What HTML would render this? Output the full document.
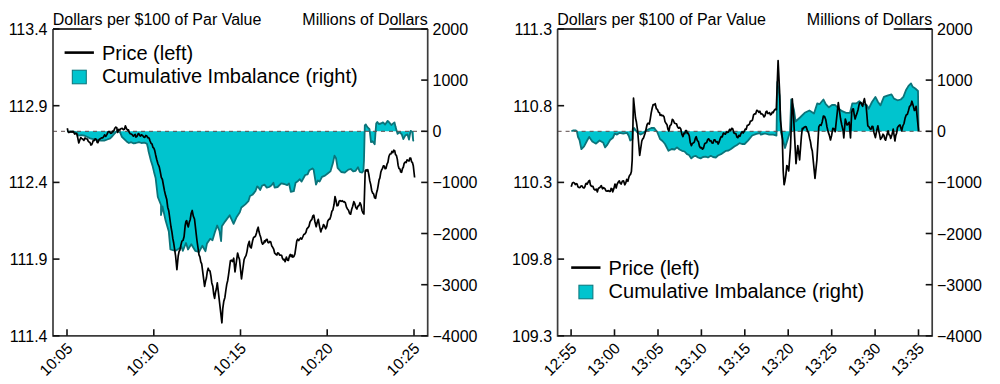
<!DOCTYPE html>
<html><head><meta charset="utf-8"><style>
html,body{margin:0;padding:0;background:#fff;width:1000px;height:384px;overflow:hidden}
svg{display:block}
.tk{font-family:"Liberation Sans",sans-serif;font-size:16px;fill:#000}
.tkr{font-family:"Liberation Sans",sans-serif;font-size:15.5px;fill:#000}
.lg{font-family:"Liberation Sans",sans-serif;font-size:20px;fill:#000}
</style></head><body>
<svg width="1000" height="384" viewBox="0 0 1000 384">
<polygon points="67.0,131.3 67.0,131.3 73.7,131.7 76.8,132.9 78.4,135.6 81.5,135.2 84.3,135.6 87.0,136.8 90.1,138.4 93.2,139.1 97.0,140.0 101.0,140.7 104.2,140.7 107.3,139.5 110.2,138.3 112.5,136.0 114.5,133.6 115.6,132.5 116.8,131.0 118.8,131.7 120.3,132.8 121.9,136.8 124.2,139.1 126.6,141.4 128.9,143.0 131.2,142.2 133.6,143.4 135.9,143.0 139.0,142.2 141.4,143.0 144.5,142.6 146.9,143.8 148.0,148.0 148.6,151.6 151.0,161.0 152.5,165.6 154.0,171.9 155.6,178.0 157.8,197.0 161.0,205.0 161.0,215.0 162.5,206.5 165.6,220.6 168.8,231.6 170.4,249.5 175.6,250.8 181.5,247.0 182.8,250.8 186.0,243.0 188.0,249.5 191.3,244.3 195.2,250.8 199.0,252.0 202.3,245.8 205.5,251.2 207.0,243.4 210.2,238.8 212.5,240.3 214.8,232.5 217.2,225.5 219.5,231.0 221.1,241.1 221.9,226.2 225.0,221.6 229.7,215.3 233.6,223.9 236.7,216.9 239.8,212.2 241.4,207.5 245.3,204.4 248.4,201.2 250.0,196.0 252.4,194.8 255.4,191.2 257.2,186.4 258.5,187.5 260.2,190.0 262.0,185.8 264.4,184.6 266.8,187.6 269.2,187.0 271.6,185.2 273.4,182.8 274.6,187.6 277.6,187.0 281.2,183.4 284.2,184.0 287.2,185.2 289.0,183.4 290.8,191.8 293.8,191.2 295.6,182.8 297.4,181.6 299.8,179.2 301.6,181.6 305.2,175.0 307.6,174.4 309.4,170.2 312.4,168.4 313.6,169.6 316.0,184.6 317.8,180.4 319.6,181.6 322.0,176.8 325.0,175.6 328.0,173.2 330.4,171.4 332.8,163.6 334.5,155.6 336.0,158.2 337.6,167.8 341.2,172.0 344.8,172.6 348.4,169.6 350.8,169.0 353.2,171.4 355.6,170.8 358.0,167.2 359.8,172.0 362.2,172.6 363.4,170.8 364.0,160.0 364.8,125.5 365.8,124.5 367.4,127.1 369.5,129.2 371.0,142.2 372.6,141.2 374.7,144.3 375.7,129.7 376.2,123.5 377.3,121.9 378.8,124.0 380.9,123.5 383.0,122.4 385.1,124.5 387.7,120.9 389.2,122.4 391.3,125.0 394.5,122.4 395.5,126.6 396.5,130.2 397.6,133.9 399.7,132.3 401.8,134.4 403.3,139.1 405.4,135.4 407.5,134.4 409.0,139.6 410.6,130.8 412.2,131.8 413.2,140.6 413.7,140.0 413.7,131.3" fill="#00c4ce" stroke="none"/>
<polyline points="67.0,131.3 73.7,131.7 76.8,132.9 78.4,135.6 81.5,135.2 84.3,135.6 87.0,136.8 90.1,138.4 93.2,139.1 97.0,140.0 101.0,140.7 104.2,140.7 107.3,139.5 110.2,138.3 112.5,136.0 114.5,133.6 115.6,132.5 116.8,131.0 118.8,131.7 120.3,132.8 121.9,136.8 124.2,139.1 126.6,141.4 128.9,143.0 131.2,142.2 133.6,143.4 135.9,143.0 139.0,142.2 141.4,143.0 144.5,142.6 146.9,143.8 148.0,148.0 148.6,151.6 151.0,161.0 152.5,165.6 154.0,171.9 155.6,178.0 157.8,197.0 161.0,205.0 161.0,215.0 162.5,206.5 165.6,220.6 168.8,231.6 170.4,249.5 175.6,250.8 181.5,247.0 182.8,250.8 186.0,243.0 188.0,249.5 191.3,244.3 195.2,250.8 199.0,252.0 202.3,245.8 205.5,251.2 207.0,243.4 210.2,238.8 212.5,240.3 214.8,232.5 217.2,225.5 219.5,231.0 221.1,241.1 221.9,226.2 225.0,221.6 229.7,215.3 233.6,223.9 236.7,216.9 239.8,212.2 241.4,207.5 245.3,204.4 248.4,201.2 250.0,196.0 252.4,194.8 255.4,191.2 257.2,186.4 258.5,187.5 260.2,190.0 262.0,185.8 264.4,184.6 266.8,187.6 269.2,187.0 271.6,185.2 273.4,182.8 274.6,187.6 277.6,187.0 281.2,183.4 284.2,184.0 287.2,185.2 289.0,183.4 290.8,191.8 293.8,191.2 295.6,182.8 297.4,181.6 299.8,179.2 301.6,181.6 305.2,175.0 307.6,174.4 309.4,170.2 312.4,168.4 313.6,169.6 316.0,184.6 317.8,180.4 319.6,181.6 322.0,176.8 325.0,175.6 328.0,173.2 330.4,171.4 332.8,163.6 334.5,155.6 336.0,158.2 337.6,167.8 341.2,172.0 344.8,172.6 348.4,169.6 350.8,169.0 353.2,171.4 355.6,170.8 358.0,167.2 359.8,172.0 362.2,172.6 363.4,170.8 364.0,160.0 364.8,125.5 365.8,124.5 367.4,127.1 369.5,129.2 371.0,142.2 372.6,141.2 374.7,144.3 375.7,129.7 376.2,123.5 377.3,121.9 378.8,124.0 380.9,123.5 383.0,122.4 385.1,124.5 387.7,120.9 389.2,122.4 391.3,125.0 394.5,122.4 395.5,126.6 396.5,130.2 397.6,133.9 399.7,132.3 401.8,134.4 403.3,139.1 405.4,135.4 407.5,134.4 409.0,139.6 410.6,130.8 412.2,131.8 413.2,140.6 413.7,140.0" fill="none" stroke="#0b747a" stroke-width="1.8" stroke-linejoin="round"/>
<line x1="53.0" y1="131.3" x2="427.7" y2="131.3" stroke="#5a4a4a" stroke-width="1" stroke-dasharray="4,4"/>
<polyline points="67.3,128.2 67.9,131.0 68.6,132.5 69.8,132.1 71.0,131.6 72.2,132.1 73.0,131.3 73.7,132.3 74.7,134.1 75.7,133.3 76.8,134.0 77.6,137.2 78.8,143.0 80.0,139.5 80.8,137.7 81.5,138.4 82.7,139.1 83.9,140.3 85.0,138.0 86.2,138.8 87.4,139.1 88.2,141.2 89.0,141.9 90.0,142.5 90.9,145.0 91.7,144.7 92.5,142.7 93.2,140.6 94.0,140.7 95.2,138.8 96.4,139.5 97.2,142.4 97.9,142.7 99.1,139.5 100.3,138.8 101.4,137.9 102.6,138.0 103.6,136.8 104.6,134.8 105.8,136.4 107.0,134.4 108.2,131.7 109.4,131.7 110.6,133.3 111.7,133.2 112.5,131.2 113.3,131.7 114.0,130.4 114.8,128.2 115.8,127.1 116.8,127.8 117.6,132.5 118.8,129.3 119.9,130.1 121.1,128.5 122.2,128.4 123.4,129.7 124.4,129.2 125.4,125.8 126.6,128.9 127.7,130.1 128.5,129.9 129.3,132.5 130.3,133.7 131.2,134.0 132.0,134.4 132.8,135.6 133.6,136.2 134.4,134.8 135.2,134.5 135.9,137.1 137.1,136.2 138.3,133.6 139.1,134.0 139.8,135.6 140.6,136.1 141.4,134.8 142.6,135.5 143.8,137.1 144.8,137.4 145.8,135.5 146.9,136.0 147.7,137.7 148.4,137.5 149.2,138.4 150.0,140.7 151.0,143.3 152.0,143.9 153.0,147.4 154.0,148.4 154.8,150.8 155.6,154.7 156.8,159.8 158.0,164.0 159.2,166.6 160.3,171.9 161.3,177.3 162.4,179.5 163.4,185.0 164.5,190.9 165.6,195.6 166.7,199.2 167.7,207.2 168.8,211.0 171.0,227.0 171.9,231.8 172.8,238.4 173.7,243.0 175.6,256.0 176.9,269.7 178.2,256.0 179.1,251.3 179.9,250.2 180.8,245.6 181.9,241.1 183.0,240.4 184.1,236.5 185.2,225.3 185.9,221.6 186.7,220.6 187.5,224.9 188.3,226.9 189.3,222.1 190.2,219.7 191.2,213.2 192.2,210.5 193.3,216.1 194.5,219.0 196.9,240.0 199.0,254.8 199.9,256.9 200.8,261.9 201.7,263.9 204.6,286.4 205.5,281.4 206.4,278.0 207.3,271.5 208.2,268.2 209.1,270.5 210.0,271.0 210.9,275.9 211.8,282.9 212.8,286.2 213.7,294.0 214.6,298.3 215.5,292.3 216.4,288.8 217.3,282.8 221.9,322.8 222.8,308.3 223.8,301.2 224.9,297.4 225.9,290.0 226.8,284.1 227.6,281.0 228.5,275.2 230.4,260.8 231.4,260.2 232.4,261.5 233.7,258.2 235.0,271.9 237.6,253.0 238.6,256.7 239.5,259.5 241.5,279.0 244.1,259.5 245.1,257.1 246.0,255.6 247.0,251.6 248.0,245.2 249.3,241.3 250.0,246.7 251.2,248.0 252.6,240.8 253.6,237.4 254.5,237.0 255.5,236.1 256.5,233.0 257.4,229.3 258.2,227.2 258.9,231.3 259.7,234.3 260.7,237.2 261.7,242.1 262.6,244.2 263.6,243.4 264.5,240.9 265.3,241.8 266.2,239.5 267.1,239.3 267.9,242.4 268.8,242.8 269.8,241.5 270.8,242.1 271.8,246.1 272.7,247.3 273.7,249.2 274.7,253.2 276.0,254.5 276.9,255.0 277.7,252.9 278.6,253.2 279.6,255.2 280.6,255.2 281.6,255.3 282.5,258.4 283.4,259.9 284.2,259.3 285.1,261.7 286.4,257.1 287.4,260.1 288.4,260.4 289.4,256.1 290.3,254.5 291.2,256.6 292.0,254.9 292.9,257.1 293.9,256.5 294.9,253.9 296.8,240.8 297.7,239.2 298.7,240.6 299.6,239.2 300.6,238.0 301.7,239.1 302.7,237.0 303.8,234.5 304.8,234.0 305.9,232.5 306.9,228.8 308.0,227.7 309.0,226.2 310.0,222.0 311.0,220.4 311.9,219.4 312.8,215.9 313.8,215.2 315.0,222.0 316.2,226.7 317.3,222.0 318.3,219.4 319.6,226.6 320.8,231.9 321.7,229.0 322.6,227.7 323.5,224.6 324.6,226.1 325.6,228.8 326.7,226.7 327.7,221.2 328.8,219.4 329.8,219.1 330.8,216.2 331.9,211.2 332.9,209.9 334.0,204.8 335.0,196.5 336.0,200.5 337.0,205.8 338.1,205.4 339.1,201.2 340.2,200.6 341.2,201.4 342.3,200.7 343.3,201.8 344.4,201.7 345.4,202.9 346.5,207.2 347.5,209.0 348.5,210.2 349.6,213.6 350.6,214.2 351.7,209.3 352.7,206.3 353.8,201.7 354.8,203.6 355.8,207.5 356.9,209.0 357.9,206.3 359.0,205.5 360.0,202.7 361.0,205.0 362.0,210.5 363.0,213.0 363.9,214.0 365.2,171.0 366.1,169.8 366.9,171.1 367.8,169.7 368.8,174.5 369.8,180.9 370.7,184.4 371.7,190.5 372.7,193.1 373.6,193.9 374.6,197.7 375.6,198.3 376.5,193.0 377.3,190.3 378.2,185.3 379.1,179.9 379.9,177.9 380.8,172.3 381.7,169.7 382.5,168.4 383.4,165.8 384.3,166.1 385.1,168.7 386.0,168.4 387.0,164.2 387.9,162.4 388.9,156.5 389.9,154.0 390.9,154.0 391.9,151.5 392.8,152.6 393.8,150.2 394.7,150.7 395.5,154.6 396.4,155.4 397.3,159.1 398.1,165.2 399.0,168.4 399.9,168.9 400.7,172.0 401.6,172.3 402.5,168.5 403.3,167.3 404.2,163.2 405.2,162.1 406.1,162.6 407.1,159.8 408.1,160.6 409.0,161.1 409.8,158.1 410.7,158.0 411.6,161.9 412.4,162.5 413.3,165.8 414.6,177.5" fill="none" stroke="#000" stroke-width="1.7" stroke-linejoin="round"/>
<path d="M53.0,29.0 V335.8 H427.7 V29.0" fill="none" stroke="#3c3c3c" stroke-width="1.7"/>
<path d="M53.0,29.0 H91.5 M389.2,29.0 H427.7" fill="none" stroke="#3a3a3a" stroke-width="1.8"/>
<line x1="53.0" y1="29.0" x2="59.5" y2="29.0" stroke="#111" stroke-width="1.6"/>
<text x="47.5" y="35.0" text-anchor="end" class="tk">113.4</text>
<line x1="53.0" y1="105.7" x2="59.5" y2="105.7" stroke="#111" stroke-width="1.6"/>
<text x="47.5" y="111.7" text-anchor="end" class="tk">112.9</text>
<line x1="53.0" y1="182.4" x2="59.5" y2="182.4" stroke="#111" stroke-width="1.6"/>
<text x="47.5" y="188.4" text-anchor="end" class="tk">112.4</text>
<line x1="53.0" y1="259.1" x2="59.5" y2="259.1" stroke="#111" stroke-width="1.6"/>
<text x="47.5" y="265.1" text-anchor="end" class="tk">111.9</text>
<line x1="53.0" y1="335.8" x2="59.5" y2="335.8" stroke="#111" stroke-width="1.6"/>
<text x="47.5" y="341.8" text-anchor="end" class="tk">111.4</text>
<line x1="421.2" y1="29.0" x2="427.7" y2="29.0" stroke="#111" stroke-width="1.6"/>
<text x="432.5" y="35.0" class="tk">2000</text>
<line x1="421.2" y1="80.1" x2="427.7" y2="80.1" stroke="#111" stroke-width="1.6"/>
<text x="432.5" y="86.1" class="tk">1000</text>
<line x1="421.2" y1="131.3" x2="427.7" y2="131.3" stroke="#111" stroke-width="1.6"/>
<text x="432.5" y="137.3" class="tk">0</text>
<line x1="421.2" y1="182.4" x2="427.7" y2="182.4" stroke="#111" stroke-width="1.6"/>
<text x="432.5" y="188.4" class="tk">−1000</text>
<line x1="421.2" y1="233.5" x2="427.7" y2="233.5" stroke="#111" stroke-width="1.6"/>
<text x="432.5" y="239.5" class="tk">−2000</text>
<line x1="421.2" y1="284.7" x2="427.7" y2="284.7" stroke="#111" stroke-width="1.6"/>
<text x="432.5" y="290.7" class="tk">−3000</text>
<line x1="421.2" y1="335.8" x2="427.7" y2="335.8" stroke="#111" stroke-width="1.6"/>
<text x="432.5" y="341.8" class="tk">−4000</text>
<line x1="67.0" y1="335.8" x2="67.0" y2="329.3" stroke="#111" stroke-width="1.6"/>
<text transform="translate(73.5,349.3) rotate(-45)" text-anchor="end" class="tkr">10:05</text>
<line x1="153.8" y1="335.8" x2="153.8" y2="329.3" stroke="#111" stroke-width="1.6"/>
<text transform="translate(160.2,349.3) rotate(-45)" text-anchor="end" class="tkr">10:10</text>
<line x1="240.5" y1="335.8" x2="240.5" y2="329.3" stroke="#111" stroke-width="1.6"/>
<text transform="translate(247.0,349.3) rotate(-45)" text-anchor="end" class="tkr">10:15</text>
<line x1="327.2" y1="335.8" x2="327.2" y2="329.3" stroke="#111" stroke-width="1.6"/>
<text transform="translate(333.8,349.3) rotate(-45)" text-anchor="end" class="tkr">10:20</text>
<line x1="414.0" y1="335.8" x2="414.0" y2="329.3" stroke="#111" stroke-width="1.6"/>
<text transform="translate(420.5,349.3) rotate(-45)" text-anchor="end" class="tkr">10:25</text>
<text x="52.7" y="24.9" class="tk">Dollars per $100 of Par Value</text>
<text x="427.7" y="24.9" text-anchor="end" class="tk">Millions of Dollars</text>
<line x1="64.6" y1="52.6" x2="93.89999999999999" y2="52.6" stroke="#000" stroke-width="2.6"/>
<text x="102.0" y="59.800000000000004" class="lg">Price (left)</text>
<rect x="72.3" y="70.2" width="14" height="13.6" fill="#00c4ce" stroke="#0b747a" stroke-width="1"/>
<text x="102.0" y="83.0" class="lg">Cumulative Imbalance (right)</text>
<polygon points="571.4,131.3 571.4,131.3 573.0,130.5 575.5,130.3 576.9,131.5 578.0,137.0 579.5,140.0 581.4,149.2 584.1,146.4 586.9,141.0 589.2,136.9 592.3,141.4 594.0,142.5 596.0,143.7 599.6,140.5 603.3,142.8 605.1,147.3 607.4,144.6 610.1,140.0 612.9,137.8 614.7,133.7 617.0,134.6 619.7,132.8 623.3,133.7 627.0,132.8 628.8,136.0 630.2,140.5 632.5,139.0 632.7,129.0 634.1,128.0 637.4,132.6 640.6,134.5 643.2,133.2 645.8,130.6 651.3,128.0 654.2,128.0 657.2,132.0 660.0,139.0 662.5,141.0 665.0,144.0 668.5,150.8 671.8,149.0 674.5,149.5 677.0,147.4 679.5,149.5 682.0,150.8 684.5,151.5 687.0,154.2 689.0,155.0 691.3,158.4 693.5,156.5 695.5,155.8 698.0,157.5 700.6,158.4 703.0,157.0 705.7,156.7 708.0,157.5 710.8,155.8 713.0,157.0 715.8,157.5 718.0,155.5 721.0,154.2 723.5,152.5 726.0,150.8 728.5,150.5 731.0,149.0 734.4,146.5 737.0,145.0 739.5,143.1 742.0,144.0 744.6,144.0 748.0,140.6 752.2,135.5 756.4,133.8 760.0,133.0 760.8,134.6 765.0,133.5 769.2,134.6 773.3,134.6 776.5,135.6 777.3,82.0 779.6,96.0 781.0,132.5 785.0,148.0 790.0,132.0 791.2,99.3 794.0,110.0 795.6,121.5 800.0,117.5 804.7,112.8 809.4,110.5 814.0,113.6 817.2,103.4 819.5,104.2 823.4,99.5 825.8,104.2 828.9,107.3 832.0,105.0 835.2,105.0 838.8,108.8 842.2,111.2 846.1,112.8 850.0,112.8 852.3,103.4 856.2,103.4 859.3,101.2 862.0,103.5 867.0,105.4 868.6,108.8 872.0,102.0 875.4,96.9 878.0,102.0 880.5,105.4 883.9,96.9 888.1,95.3 891.5,94.4 894.0,98.6 897.5,100.3 900.8,99.5 903.4,96.9 905.9,90.2 908.5,85.9 911.0,83.4 912.7,86.8 915.3,88.5 918.0,91.0 918.6,131.3 918.6,131.3" fill="#00c4ce" stroke="none"/>
<polyline points="571.4,131.3 573.0,130.5 575.5,130.3 576.9,131.5 578.0,137.0 579.5,140.0 581.4,149.2 584.1,146.4 586.9,141.0 589.2,136.9 592.3,141.4 594.0,142.5 596.0,143.7 599.6,140.5 603.3,142.8 605.1,147.3 607.4,144.6 610.1,140.0 612.9,137.8 614.7,133.7 617.0,134.6 619.7,132.8 623.3,133.7 627.0,132.8 628.8,136.0 630.2,140.5 632.5,139.0 632.7,129.0 634.1,128.0 637.4,132.6 640.6,134.5 643.2,133.2 645.8,130.6 651.3,128.0 654.2,128.0 657.2,132.0 660.0,139.0 662.5,141.0 665.0,144.0 668.5,150.8 671.8,149.0 674.5,149.5 677.0,147.4 679.5,149.5 682.0,150.8 684.5,151.5 687.0,154.2 689.0,155.0 691.3,158.4 693.5,156.5 695.5,155.8 698.0,157.5 700.6,158.4 703.0,157.0 705.7,156.7 708.0,157.5 710.8,155.8 713.0,157.0 715.8,157.5 718.0,155.5 721.0,154.2 723.5,152.5 726.0,150.8 728.5,150.5 731.0,149.0 734.4,146.5 737.0,145.0 739.5,143.1 742.0,144.0 744.6,144.0 748.0,140.6 752.2,135.5 756.4,133.8 760.0,133.0 760.8,134.6 765.0,133.5 769.2,134.6 773.3,134.6 776.5,135.6 777.3,82.0 779.6,96.0 781.0,132.5 785.0,148.0 790.0,132.0 791.2,99.3 794.0,110.0 795.6,121.5 800.0,117.5 804.7,112.8 809.4,110.5 814.0,113.6 817.2,103.4 819.5,104.2 823.4,99.5 825.8,104.2 828.9,107.3 832.0,105.0 835.2,105.0 838.8,108.8 842.2,111.2 846.1,112.8 850.0,112.8 852.3,103.4 856.2,103.4 859.3,101.2 862.0,103.5 867.0,105.4 868.6,108.8 872.0,102.0 875.4,96.9 878.0,102.0 880.5,105.4 883.9,96.9 888.1,95.3 891.5,94.4 894.0,98.6 897.5,100.3 900.8,99.5 903.4,96.9 905.9,90.2 908.5,85.9 911.0,83.4 912.7,86.8 915.3,88.5 918.0,91.0 918.6,131.3" fill="none" stroke="#0b747a" stroke-width="1.8" stroke-linejoin="round"/>
<line x1="557.6" y1="131.3" x2="932.2" y2="131.3" stroke="#5a4a4a" stroke-width="1" stroke-dasharray="4,4"/>
<polyline points="571.2,186.8 572.4,182.9 573.4,182.4 574.4,182.9 575.3,184.6 576.3,183.7 577.1,184.0 577.9,186.8 579.1,187.6 580.0,187.5 581.0,186.0 582.0,185.9 583.0,187.6 584.0,188.1 584.9,186.8 585.7,183.9 586.5,183.3 587.2,184.2 588.0,182.5 588.8,181.0 589.6,180.5 590.4,184.8 591.2,186.0 592.0,186.4 593.0,186.4 593.9,189.1 595.1,190.0 596.2,189.1 597.4,191.9 598.2,188.7 599.0,188.0 600.1,187.2 601.3,185.6 602.5,188.8 603.6,187.7 604.8,188.4 606.0,190.9 607.2,191.1 608.4,190.6 609.5,191.5 610.3,191.4 611.1,188.4 611.9,188.8 612.7,191.9 613.9,188.4 615.0,184.0 616.2,188.0 617.0,184.5 618.1,182.3 619.3,180.9 620.3,183.4 621.2,184.0 622.4,181.0 623.6,180.9 624.8,184.8 625.8,182.9 626.7,179.4 627.9,181.3 628.7,177.8 629.5,175.5 630.5,174.4 631.4,171.6 632.2,160.0 633.5,98.2 635.5,118.0 636.4,122.0 637.6,130.5 639.7,155.5 641.8,141.0 642.6,139.1 643.5,138.0 644.9,133.7 645.7,131.0 646.5,127.0 647.2,124.2 648.0,123.2 649.3,124.0 650.2,119.3 651.2,112.8 652.2,108.0 653.2,104.5 654.2,104.8 655.2,103.7 656.4,108.7 657.4,109.4 658.5,112.3 659.5,112.8 660.1,115.4 661.1,114.7 662.0,115.8 663.0,115.4 664.0,116.7 665.0,121.6 666.0,123.2 667.0,124.7 667.9,129.0 668.9,131.0 670.0,125.6 671.2,124.6 672.3,119.4 673.3,120.2 674.4,122.9 675.4,123.5 676.5,123.9 677.5,126.7 678.6,128.2 679.7,127.4 680.8,129.0 681.9,134.3 683.0,136.5 683.9,133.2 684.7,133.7 685.6,130.6 686.5,130.7 687.3,133.4 688.2,133.2 689.3,136.0 690.3,142.8 691.4,145.6 692.4,143.3 693.4,143.0 694.4,141.9 695.3,138.4 696.2,136.7 697.3,140.5 698.4,141.6 699.4,146.0 700.4,147.9 701.5,147.5 702.5,149.2 703.5,148.1 704.6,143.9 705.6,143.0 706.6,142.7 707.7,139.4 708.8,138.8 709.8,141.0 710.9,140.6 711.9,143.0 712.9,143.2 714.0,139.9 715.0,139.8 716.0,142.0 717.1,141.7 718.1,144.0 719.1,142.0 720.2,138.7 721.2,136.7 722.3,136.8 723.4,133.1 724.4,133.5 725.4,134.2 726.5,132.0 727.5,132.5 728.5,132.0 729.6,129.4 730.7,130.8 731.7,128.3 732.7,128.8 733.8,132.8 734.8,133.5 735.8,133.6 736.9,137.0 737.9,137.7 738.9,135.3 740.0,136.3 741.0,133.5 742.1,131.8 743.1,133.1 744.2,131.5 745.2,129.2 746.2,129.4 747.3,125.3 748.3,125.2 749.4,124.2 750.4,121.1 751.5,121.0 752.5,119.9 753.6,114.8 754.6,113.8 755.6,113.9 756.7,110.4 757.7,110.6 758.8,112.4 759.8,111.2 760.9,113.8 761.9,113.8 763.0,114.9 764.0,116.9 765.0,115.7 766.0,111.7 766.9,111.2 767.7,113.4 768.6,113.3 769.5,112.6 770.5,114.8 771.4,114.2 772.3,112.2 773.2,112.6 774.1,110.6 775.2,109.2 776.3,109.7 778.1,60.5 779.6,91.5 780.5,120.0 782.3,138.2 783.2,171.0 784.1,184.7 785.0,180.7 785.9,174.6 786.8,165.5 787.8,167.2 788.7,171.0 790.5,147.3 792.3,98.8 793.5,115.0 794.5,135.0 796.0,163.7 797.8,145.5 799.6,160.0 801.4,136.4 802.3,128.4 803.2,128.8 804.1,127.3 805.2,126.7 806.2,126.9 807.4,130.6 808.6,133.0 809.6,138.2 810.5,141.9 811.4,147.8 812.3,151.0 815.0,178.3 816.9,160.0 818.8,126.9 819.9,124.8 821.1,125.3 822.2,121.9 823.4,116.0 824.6,116.6 825.8,119.8 827.0,127.0 828.1,131.6 829.3,135.1 830.5,140.0 831.6,135.5 832.8,128.4 834.0,128.9 835.2,131.6 838.3,102.7 840.6,119.0 841.8,125.0 843.0,130.0 843.8,138.0 845.3,119.0 846.1,121.6 847.0,125.0 848.1,124.0 849.2,122.2 850.5,138.0 851.7,112.2 852.5,109.3 853.4,108.8 854.2,114.6 855.1,119.0 856.0,115.9 856.8,113.9 858.0,109.9 859.3,103.7 860.1,102.5 861.0,102.9 861.9,105.1 862.7,106.3 863.5,101.9 864.4,98.6 865.2,103.0 866.1,105.4 867.8,125.8 869.0,126.9 870.3,129.2 871.2,129.0 872.0,126.3 872.9,126.6 874.1,133.0 875.4,137.6 876.6,130.9 877.9,125.8 878.8,131.2 879.6,134.4 880.5,139.3 881.8,137.6 883.0,134.2 883.9,135.3 884.7,138.8 885.6,140.2 886.9,135.0 888.1,130.8 889.0,134.8 889.8,135.0 890.7,138.5 892.0,134.5 893.2,129.2 894.9,141.0 895.8,135.4 896.6,133.3 897.5,127.5 898.8,125.8 900.0,124.9 900.9,128.3 901.7,130.8 902.8,126.0 904.0,123.5 905.1,118.1 906.2,115.0 907.4,114.2 908.5,110.5 909.6,106.3 910.8,105.3 911.9,101.2 913.1,105.2 914.4,110.5 915.2,109.9 916.1,106.3 918.6,130.8" fill="none" stroke="#000" stroke-width="1.7" stroke-linejoin="round"/>
<path d="M557.6,29.0 V335.8 H932.2 V29.0" fill="none" stroke="#3c3c3c" stroke-width="1.7"/>
<path d="M557.6,29.0 H596.1 M893.7,29.0 H932.2" fill="none" stroke="#3a3a3a" stroke-width="1.8"/>
<line x1="557.6" y1="29.0" x2="564.1" y2="29.0" stroke="#111" stroke-width="1.6"/>
<text x="552.1" y="35.0" text-anchor="end" class="tk">111.3</text>
<line x1="557.6" y1="105.7" x2="564.1" y2="105.7" stroke="#111" stroke-width="1.6"/>
<text x="552.1" y="111.7" text-anchor="end" class="tk">110.8</text>
<line x1="557.6" y1="182.4" x2="564.1" y2="182.4" stroke="#111" stroke-width="1.6"/>
<text x="552.1" y="188.4" text-anchor="end" class="tk">110.3</text>
<line x1="557.6" y1="259.1" x2="564.1" y2="259.1" stroke="#111" stroke-width="1.6"/>
<text x="552.1" y="265.1" text-anchor="end" class="tk">109.8</text>
<line x1="557.6" y1="335.8" x2="564.1" y2="335.8" stroke="#111" stroke-width="1.6"/>
<text x="552.1" y="341.8" text-anchor="end" class="tk">109.3</text>
<line x1="925.7" y1="29.0" x2="932.2" y2="29.0" stroke="#111" stroke-width="1.6"/>
<text x="937.0" y="35.0" class="tk">2000</text>
<line x1="925.7" y1="80.1" x2="932.2" y2="80.1" stroke="#111" stroke-width="1.6"/>
<text x="937.0" y="86.1" class="tk">1000</text>
<line x1="925.7" y1="131.3" x2="932.2" y2="131.3" stroke="#111" stroke-width="1.6"/>
<text x="937.0" y="137.3" class="tk">0</text>
<line x1="925.7" y1="182.4" x2="932.2" y2="182.4" stroke="#111" stroke-width="1.6"/>
<text x="937.0" y="188.4" class="tk">−1000</text>
<line x1="925.7" y1="233.5" x2="932.2" y2="233.5" stroke="#111" stroke-width="1.6"/>
<text x="937.0" y="239.5" class="tk">−2000</text>
<line x1="925.7" y1="284.7" x2="932.2" y2="284.7" stroke="#111" stroke-width="1.6"/>
<text x="937.0" y="290.7" class="tk">−3000</text>
<line x1="925.7" y1="335.8" x2="932.2" y2="335.8" stroke="#111" stroke-width="1.6"/>
<text x="937.0" y="341.8" class="tk">−4000</text>
<line x1="571.1" y1="335.8" x2="571.1" y2="329.3" stroke="#111" stroke-width="1.6"/>
<text transform="translate(577.6,349.3) rotate(-45)" text-anchor="end" class="tkr">12:55</text>
<line x1="614.5" y1="335.8" x2="614.5" y2="329.3" stroke="#111" stroke-width="1.6"/>
<text transform="translate(621.0,349.3) rotate(-45)" text-anchor="end" class="tkr">13:00</text>
<line x1="658.0" y1="335.8" x2="658.0" y2="329.3" stroke="#111" stroke-width="1.6"/>
<text transform="translate(664.5,349.3) rotate(-45)" text-anchor="end" class="tkr">13:05</text>
<line x1="701.4" y1="335.8" x2="701.4" y2="329.3" stroke="#111" stroke-width="1.6"/>
<text transform="translate(707.9,349.3) rotate(-45)" text-anchor="end" class="tkr">13:10</text>
<line x1="744.8" y1="335.8" x2="744.8" y2="329.3" stroke="#111" stroke-width="1.6"/>
<text transform="translate(751.3,349.3) rotate(-45)" text-anchor="end" class="tkr">13:15</text>
<line x1="788.2" y1="335.8" x2="788.2" y2="329.3" stroke="#111" stroke-width="1.6"/>
<text transform="translate(794.8,349.3) rotate(-45)" text-anchor="end" class="tkr">13:20</text>
<line x1="831.7" y1="335.8" x2="831.7" y2="329.3" stroke="#111" stroke-width="1.6"/>
<text transform="translate(838.2,349.3) rotate(-45)" text-anchor="end" class="tkr">13:25</text>
<line x1="875.1" y1="335.8" x2="875.1" y2="329.3" stroke="#111" stroke-width="1.6"/>
<text transform="translate(881.6,349.3) rotate(-45)" text-anchor="end" class="tkr">13:30</text>
<line x1="918.5" y1="335.8" x2="918.5" y2="329.3" stroke="#111" stroke-width="1.6"/>
<text transform="translate(925.0,349.3) rotate(-45)" text-anchor="end" class="tkr">13:35</text>
<text x="557.3000000000001" y="24.9" class="tk">Dollars per $100 of Par Value</text>
<text x="932.2" y="24.9" text-anchor="end" class="tk">Millions of Dollars</text>
<line x1="571.2" y1="267.6" x2="600.5" y2="267.6" stroke="#000" stroke-width="2.6"/>
<text x="608.6" y="274.8" class="lg">Price (left)</text>
<rect x="578.9000000000001" y="285.20000000000005" width="14" height="13.6" fill="#00c4ce" stroke="#0b747a" stroke-width="1"/>
<text x="608.6" y="298.0" class="lg">Cumulative Imbalance (right)</text>
</svg>
</body></html>
